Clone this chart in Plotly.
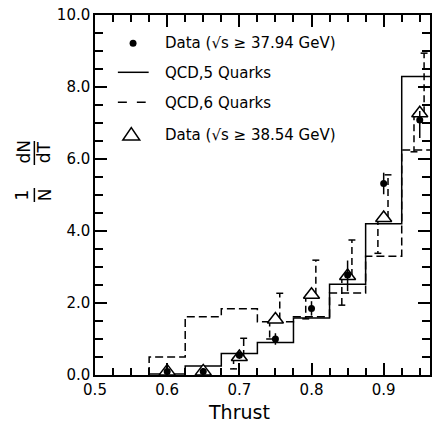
import plotly.graph_objects as go

# ---------------- data ----------------
bin_edges = [0.575, 0.625, 0.675, 0.725, 0.775, 0.825, 0.875, 0.925, 0.975]
qcd5 = [0.03, 0.25, 0.60, 0.90, 1.58, 2.52, 4.20, 8.29]
qcd6 = [0.50, 1.62, 1.84, 1.48, 1.62, 2.28, 3.30, 6.25]

thrust = [0.60, 0.65, 0.70, 0.75, 0.80, 0.85, 0.90, 0.95]
data1 = [0.10, 0.10, 0.55, 1.00, 1.85, 2.78, 5.32, 7.08]
data1_err_plus = [0.0, 0.0, 0.10, 0.16, 0.20, 0.40, 0.30, 0.25]
data1_err_minus = [0.0, 0.0, 0.10, 0.16, 0.20, 0.45, 0.30, 0.50]
data2 = [0.10, 0.10, 0.50, 1.54, 2.23, 2.75, 4.36, 7.27]
data2_err_plus = [0.0, 0.0, 0.52, 0.73, 0.96, 1.00, 1.20, 1.67]
data2_err_minus = [0.0, 0.0, 0.33, 0.54, 0.67, 0.81, 0.98, 1.07]

x_tick_vals = [0.5, 0.6, 0.7, 0.8, 0.9]
y_tick_vals = [0, 2, 4, 6, 8, 10]

legend_labels = ["Data (√s ≥ 37.94 GeV)", "QCD,5 Quarks", "QCD,6 Quarks",
                 "Data (√s ≥ 38.54 GeV)"]

# ---------------- layout geometry ----------------
W, H = 432, 425
ML, MR, MT, MB = 95, 0, 15, 50
PX_PER_UNIT_X = 726.0
X_RANGE = [0.5, 0.5 + (W - ML - MR) / PX_PER_UNIT_X]
Y_RANGE = [0, 10]
FONT = "DejaVu Sans"
LW = 1.5


def px(x):
    return (x - ML) / (W - ML - MR)


def py(y):
    return (H - MB - y) / (H - MT - MB)


def steps(edges, vals):
    xs = [edges[0]] + list(edges[:-1]) + [edges[-1], edges[-1]]
    ys = [0] + list(vals) + [vals[-1], 0]
    return xs, ys


fig = go.Figure()

x5, y5 = steps(bin_edges, qcd5)
fig.add_trace(go.Scatter(x=x5, y=y5, mode="lines", line=dict(color="black", width=LW, shape="hv"),
                         showlegend=False, hoverinfo="skip"))
x6, y6 = steps(bin_edges, qcd6)
fig.add_trace(go.Scatter(x=x6, y=y6, mode="lines",
                         line=dict(color="black", width=LW, shape="hv", dash="8px,4px"),
                         showlegend=False, hoverinfo="skip"))

# dashed error bars of the second data set (upper part offset right, lower part left)
DX_UP, DX_DN, CAP = 0.006, -0.008, 0.0048
ex, ey, cx, cy = [], [], [], []
for x, y, ep, em in zip(thrust, data2, data2_err_plus, data2_err_minus):
    if ep > 0:
        xu = x + DX_UP
        ex += [xu, xu, None]
        ey += [y, y + ep, None]
        cx += [xu - CAP, xu + CAP, None]
        cy += [y + ep, y + ep, None]
    if em > 0:
        xd = x + DX_DN
        ex += [xd, xd, None]
        ey += [y, y - em, None]
        cx += [xd - CAP, xd + CAP, None]
        cy += [y - em, y - em, None]
fig.add_trace(go.Scatter(x=ex, y=ey, mode="lines",
                         line=dict(color="black", width=LW, dash="7px,4px"),
                         showlegend=False, hoverinfo="skip"))
fig.add_trace(go.Scatter(x=cx, y=cy, mode="lines", line=dict(color="black", width=LW),
                         showlegend=False, hoverinfo="skip"))

fig.add_trace(go.Scatter(x=thrust, y=data2, mode="markers",
                         marker=dict(symbol="triangle-up", size=14, color="white",
                                     line=dict(color="black", width=LW)),
                         showlegend=False))
fig.add_trace(go.Scatter(x=thrust, y=data1, mode="markers",
                         marker=dict(symbol="circle", size=7, color="black"),
                         error_y=dict(type="data", array=data1_err_plus,
                                      arrayminus=data1_err_minus, color="black",
                                      thickness=LW, width=0),
                         showlegend=False))

tickfont = dict(family=FONT, size=15, color="black")
common = dict(ticks="inside", tickwidth=LW, tickcolor="black", showline=True,
              linewidth=LW, linecolor="black", mirror="allticks", showgrid=False,
              zeroline=False, tickfont=tickfont, tickformat=".1f")

fig.update_layout(
    width=W, height=H, margin=dict(l=ML, r=MR, t=MT, b=MB),
    paper_bgcolor="white", plot_bgcolor="white", showlegend=False,
    xaxis=dict(range=X_RANGE, tickmode="array", tickvals=x_tick_vals, ticklen=12,
               minor=dict(tickmode="linear", tick0=0.5, dtick=0.025, ticks="inside",
                          ticklen=7, tickwidth=LW, tickcolor="black"),
               **common),
    yaxis=dict(range=Y_RANGE, tickmode="array", tickvals=y_tick_vals, ticklen=12,
               minor=dict(tickmode="linear", tick0=0, dtick=0.5, ticks="inside",
                          ticklen=8, tickwidth=LW, tickcolor="black"),
               **common),
)

ann = []
ann.append(dict(text="Thrust", x=px(240), y=py(412), xref="paper", yref="paper",
                showarrow=False, font=dict(family=FONT, size=19, color="black"),
                xanchor="center", yanchor="middle"))
# y-axis title 1/N dN/dT built as rotated fractions
for t, xx, yy in [("dN", 24, 151), ("dT", 44, 152), ("1", 22, 195), ("N", 45, 195)]:
    ann.append(dict(text=t, x=px(xx), y=py(yy), xref="paper", yref="paper",
                    showarrow=False, textangle=-90,
                    font=dict(family=FONT, size=17, color="black"),
                    xanchor="center", yanchor="middle"))
# legend texts
for lab, yy in zip(legend_labels, [43, 72.5, 102.5, 135]):
    ann.append(dict(text=lab, x=px(163), y=py(yy), xref="paper", yref="paper",
                    showarrow=False, font=dict(family=FONT, size=15, color="black"),
                    xanchor="left", yanchor="middle"))

shapes = []
# fraction bars of the y title
shapes.append(dict(type="line", xref="paper", yref="paper", x0=px(34), x1=px(34),
                   y0=py(141), y1=py(165), line=dict(color="black", width=LW)))
shapes.append(dict(type="line", xref="paper", yref="paper", x0=px(34), x1=px(34),
                   y0=py(188), y1=py(202), line=dict(color="black", width=LW)))
# legend keys
shapes.append(dict(type="circle", xref="paper", yref="paper", x0=px(129.8), x1=px(136.8),
                   y0=py(39.8), y1=py(46.8), fillcolor="black", line=dict(color="black", width=0)))
shapes.append(dict(type="line", xref="paper", yref="paper", x0=px(118), x1=px(149),
                   y0=py(72.3), y1=py(72.3), line=dict(color="black", width=LW)))
shapes.append(dict(type="line", xref="paper", yref="paper", x0=px(118), x1=px(146),
                   y0=py(102.3), y1=py(102.3), line=dict(color="black", width=LW, dash="9px,10px")))
shapes.append(dict(type="path", xref="paper", yref="paper",
                   path=f"M {px(123)},{py(140)} L {px(140)},{py(140)} L {px(131.5)},{py(127.5)} Z",
                   line=dict(color="black", width=LW), fillcolor="white"))

fig.update_layout(annotations=ann, shapes=shapes)
fig.write_html("out.html")
